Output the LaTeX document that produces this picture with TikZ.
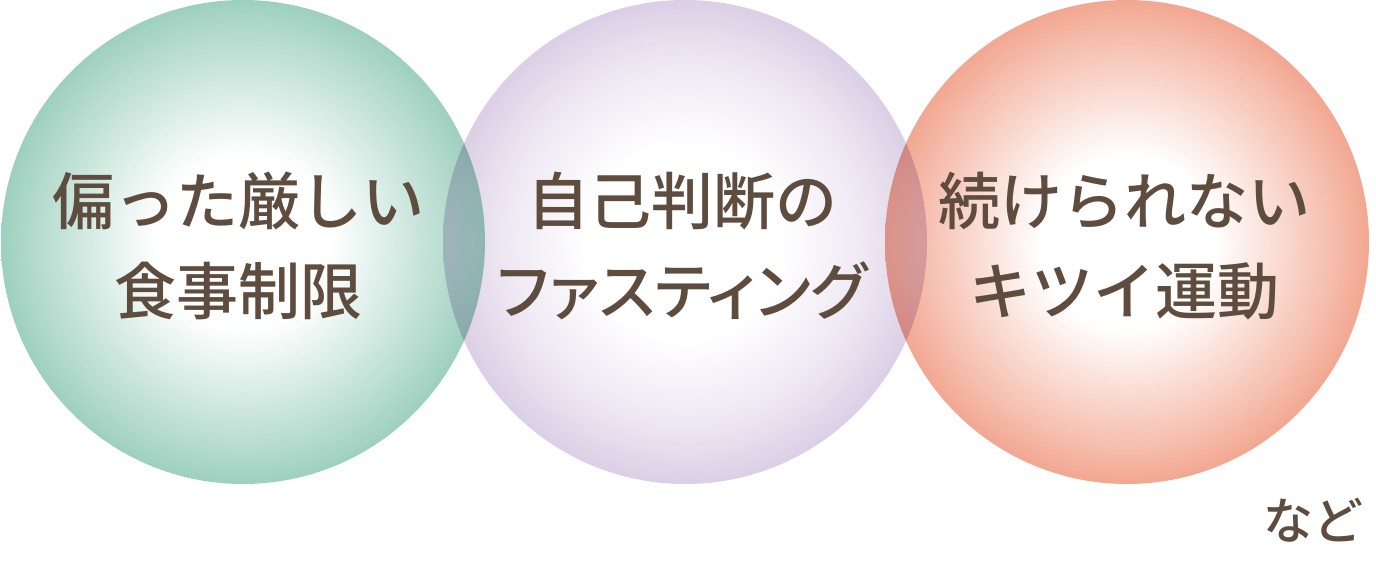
\documentclass[tikz,border=0pt]{standalone}
\usepackage{fontspec}
\setmainfont{Noto Sans CJK JP Medium}
\newfontfamily\paltfont[RawFeature=+palt]{Noto Sans CJK JP Medium}
\definecolor{txtbrown}{RGB}{94,76,62}
\definecolor{grnedge}{RGB}{112,186,160}
\definecolor{purpedge}{RGB}{184,158,204}
\definecolor{orgedge}{RGB}{236,126,94}
\pgfdeclareradialshading{grnball}{\pgfpoint{0bp}{0bp}}{color(0bp)=(white); color(9bp)=(white); color(21bp)=(grnedge!50!white); color(32bp)=(grnedge); color(50bp)=(grnedge)}
\pgfdeclareradialshading{purpball}{\pgfpoint{0bp}{0bp}}{color(0bp)=(white); color(10bp)=(white); color(19bp)=(purpedge!25!white); color(25bp)=(purpedge!50!white); color(32bp)=(purpedge); color(50bp)=(purpedge)}
\pgfdeclareradialshading{orgball}{\pgfpoint{0bp}{0bp}}{color(0bp)=(white); color(9bp)=(white); color(21bp)=(orgedge!50!white); color(32bp)=(orgedge); color(50bp)=(orgedge)}
\tikzset{
  ball/.style={blend mode=multiply},
  label/.style={text=txtbrown, font=\fontsize{31}{45}\selectfont, align=center}
}
\begin{document}
\begin{tikzpicture}[x=0.5pt,y=-0.5pt]
  \useasboundingbox (0,0) rectangle (1376,563);
  % circles
  \shade[ball,shading=purpball] (685,242) circle (242);
  \shade[ball,shading=grnball] (243,242) circle (242);
  \shade[ball,shading=orgball] (1127,242) circle (242);
  % texts
  \node[label] (diet) at (239,246) {偏った厳しい\\食事制限};
  \node[label] (fast) at (682,246) {自己判断の\\{\paltfont ファスティング}};
  \node[label] (sport) at (1124,246) {続けられない\\キツイ運動};
  \node[label,font=\fontsize{25}{30}\selectfont] (etc) at (1313,520) {など};
\end{tikzpicture}
\end{document}
